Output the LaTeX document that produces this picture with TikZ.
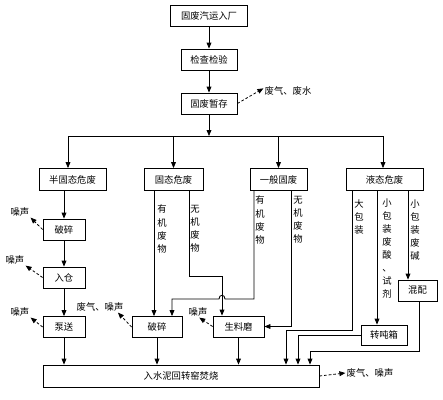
\documentclass[tikz,border=0pt]{standalone}
\usepackage{fontspec}
\newfontfamily\cjk{Noto Sans CJK SC}
\usetikzlibrary{arrows.meta,calc}
\tikzset{
	box/.style={draw, line width=0.6pt, inner sep=0.75pt, minimum height=15.75pt, font=\cjk\fontsize{7}{8}\selectfont},
	lab/.style={inner sep=0.75pt, font=\cjk\fontsize{7}{8}\selectfont},
	vlab/.style={inner sep=0.75pt, align=center, font=\cjk\fontsize{7}{9.8}\selectfont},
	line/.style={line width=0.6pt},
	arr/.style={line width=0.6pt, -{Triangle[length=4.5pt,width=3.6pt]}},
	darr/.style={arr, dash pattern=on 2pt off 1.5pt}
}
\begin{document}
\begin{tikzpicture}[x=0.75pt,y=0.75pt,yscale=-1,xscale=1]
			\useasboundingbox (0,0) rectangle (443,400);

			% Text Node
			\node[box, minimum width=57.75pt] (rc) at (209,15.5) {固废汽运入厂};
			% Text Node
			\node[box, minimum width=42pt] (jc) at (209,59.5) {检查检验};
			% Text Node
			\node[box, minimum width=42pt] (zc) at (209,103.5) {固废暂存};
			% Text Node
			\node[lab] (fq1) at (288,91) {废气、废水};
			% Text Node
			\node[box, minimum width=50.25pt, minimum height=16.5pt] (bgt) at (72.5,179.5) {半固态危废};
			% Text Node
			\node[box, minimum width=44.25pt, minimum height=16.5pt] (gt) at (173.5,179.5) {固态危废};
			% Text Node
			\node[box, minimum width=42.75pt, minimum height=16.5pt] (yb) at (278.5,179.5) {一般固废};
			% Text Node
			\node[box, minimum width=57.75pt, minimum height=16.5pt] (yt) at (384.5,179.5) {液态危废};
			% Text Node
			\node[box, minimum width=31.5pt] (ps1) at (64,229.5) {破碎};
			% Text Node
			\node[box, minimum width=31.5pt] (rc2) at (64,277.5) {入仓};
			% Text Node
			\node[box, minimum width=31.5pt] (bs) at (64,327) {泵送};
			% Text Node
			\node[box, minimum width=37.5pt] (ps2) at (157,327) {破碎};
			% Text Node
			\node[box, minimum width=38.25pt] (slm) at (238.5,326.5) {生料磨};
			% Text Node
			\node[box, minimum width=34.5pt, minimum height=15pt] (zdx) at (384,335) {转吨箱};
			% Text Node
			\node[box, minimum width=29.25pt] (hp) at (417.5,290.5) {混配};
			% Text Node
			\node[box, minimum width=207pt, minimum height=16.5pt] (fs) at (181,376) {入水泥回转窑焚烧};
			% Text Node
			\node[lab] (fq2) at (370,373) {废气、噪声};
			% Text Node
			\node[lab] (n1) at (20,212) {噪声};
			\node[lab] (n2) at (15,260) {噪声};
			\node[lab] (n3) at (20,312) {噪声};
			\node[lab] (n4) at (100,307) {废气、噪声};
			\node[lab] (n5) at (198,312) {噪声};
			% Text Node
			\node[vlab] (t1) at (162,229) {有\\机\\废\\物};
			\node[vlab] (t2) at (195,229) {无\\机\\废\\物};
			\node[vlab] (t3) at (260,220) {有\\机\\废\\物};
			\node[vlab] (t4) at (298,220) {无\\机\\废\\物};
			\node[vlab] (t5) at (359,217) {大\\包\\装};
			\node[vlab] (t6) at (387,248.5) {小\\包\\装\\废\\酸\\、\\试\\剂};
			\node[vlab] (t7) at (415,230) {小\\包\\装\\废\\碱};

			% bends
			\coordinate (busL) at (68,136);
			\coordinate (busM) at (209,136);
			\coordinate (busR) at (383,136);
			\coordinate (k0) at (154,250);
			\coordinate (k1) at (189,276);
			\coordinate (k2) at (222,276);
			\coordinate (k3) at (254,299);
			\coordinate (k4) at (172,299);
			\coordinate (hop) at (222,299);
			\coordinate (k5) at (291,250);
			\coordinate (k6) at (352,330);
			\coordinate (k7) at (286,330);
			\coordinate (k8) at (377,250);
			\coordinate (k9) at (298,250);
			\coordinate (k10) at (408,250);
			\coordinate (k11) at (419,351);
			\coordinate (k12) at (310,351);

			%Straight Lines
			\draw[arr] (rc) -- (jc);
			\draw[arr] (jc) -- (zc);
			\draw[arr] (zc) -- (busM);
			\draw[line] (busL) -- (busR);
			\draw[arr] (busL) -- (busL |- bgt.north);
			\draw[arr] (gt.north |- busM) -- (gt.north);
			\draw[arr] (yb.north |- busM) -- (yb.north);
			\draw[arr] (busR) -- (busR |- yt.north);
			%Straight Lines
			\draw[arr] (ps1.north |- bgt.south) -- (ps1.north);
			\draw[arr] (ps1) -- (rc2);
			\draw[arr] (rc2) -- (bs);
			\draw[arr] (bs) -- (bs |- fs.north);
			%Straight Lines
			\draw[arr] (gt.south -| k0) -- (k0 |- ps2.north);
			\draw[arr] (gt.south -| k1) -- (k1) -- (k2) -- (k2 |- slm.north);
			\draw[arr] (yb.south -| k3) -- (k3) -- ($(hop)+(3,0)$) .. controls ($(hop)+(3,-5)$) and ($(hop)+(-3,-5)$) .. ($(hop)+(-3,0)$) -- (k4) -- (k4 |- ps2.north);
			\draw[arr] (yb.south -| k5) -- (k5 |- slm.east) -- (slm.east);
			\draw[arr] (ps2) -- (ps2 |- fs.north);
			\draw[arr] (slm) -- (slm |- fs.north);
			%Straight Lines
			\draw[arr] (yt.south -| k6) -- (k6) -- (k7) -- (k7 |- fs.north);
			\draw[arr] (yt.south -| k8) -- (k8 |- zdx.north);
			\draw[arr] (zdx.west) -- (zdx.west -| k9) -- (k9 |- fs.north);
			\draw[arr] (yt.south -| k10) -- (k10 |- hp.north);
			\draw[arr] (hp.south -| k11) -- (k11) -- (k12) -- (k12 |- fs.north);
			%Dashed Lines
			\draw[darr] (zc.east) -- ([yshift=-2pt]fq1.west);
			\draw[darr] (fs.east) -- (fq2.west);
			\draw[darr] (ps1.west) -- (n1.south east);
			\draw[darr] (rc2.west) -- (n2.south east);
			\draw[darr] (bs.west) -- (n3.south east);
			\draw[darr] (ps2.west) -- ([xshift=-5pt]n4.south east);
			\draw[darr] (slm.west) -- ([xshift=-7pt]n5.south east);

		\end{tikzpicture}
\end{document}
